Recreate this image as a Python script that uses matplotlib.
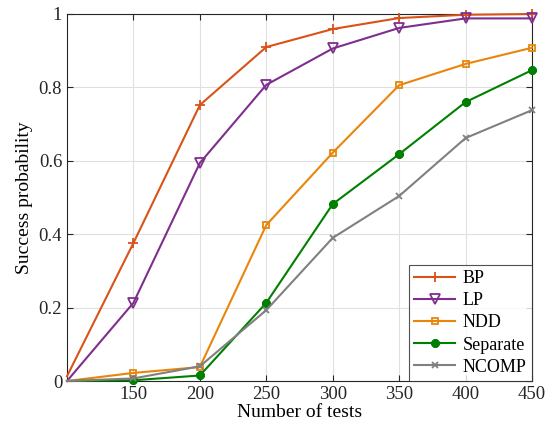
import matplotlib
matplotlib.use("Agg")
import matplotlib.pyplot as plt

tests = [100, 150, 200, 250, 300, 350, 400, 450]
bp = [0.013, 0.376, 0.752, 0.910, 0.959, 0.989, 0.998, 1.0]
lp = [0.0, 0.213, 0.594, 0.807, 0.906, 0.962, 0.988, 0.988]
ndd = [0.0, 0.022, 0.038, 0.425, 0.622, 0.806, 0.864, 0.908]
separate = [0.0, 0.002, 0.015, 0.213, 0.482, 0.618, 0.760, 0.847]
ncomp = [0.0, 0.007, 0.040, 0.193, 0.390, 0.504, 0.662, 0.738]

plt.rcParams['font.family'] = ['Liberation Serif', 'DejaVu Serif']
plt.rcParams['mathtext.fontset'] = 'stix'

fig = plt.figure(figsize=(5.47, 4.33), dpi=100)
ax = fig.add_axes([67/547, 1-381/433, (532-67)/547, (381-14)/433])

series = [
    ("BP", bp, "#D95319", "+", dict(markersize=7, markeredgewidth=1.3)),
    ("LP", lp, "#7E2F8E", "v", dict(markersize=6.5, markerfacecolor='none', markeredgewidth=1.3)),
    ("NDD", ndd, "#E8860C", "s", dict(markersize=5, markerfacecolor='none', markeredgewidth=1.3)),
    ("Separate", separate, "#008000", (8, 2, 0), dict(markersize=6, markeredgewidth=2.2)),
    ("NCOMP", ncomp, "#808080", "x", dict(markersize=5, markeredgewidth=1.3)),
]
for name, vals, col, mk, kw in series:
    ax.plot(tests, vals, color=col, marker=mk, lw=1.5, label=name,
            markevery=list(range(1, len(tests))), clip_on=False, zorder=3, **kw)

ax.set_xlim(100, 450)
ax.set_ylim(0, 1)
ax.set_xticks([150, 200, 250, 300, 350, 400, 450])
ax.set_yticks([0, 0.2, 0.4, 0.6, 0.8, 1])
ax.set_yticklabels(["0", "0.2", "0.4", "0.6", "0.8", "1"])
ax.grid(True, color="#e0e0e0", lw=0.8)
ax.tick_params(direction="in", labelsize=13.5, colors="#262626", length=4,
               top=True, right=True)
for s in ax.spines.values():
    s.set_color("#262626")
    s.set_linewidth(0.8)
ax.set_xlabel("Number of tests", fontsize=14, labelpad=1)
ax.set_ylabel("Success probability", fontsize=14, labelpad=4)

leg = ax.legend(loc="lower right", fontsize=13, frameon=True, fancybox=False,
                edgecolor="#262626", handlelength=2.3, borderpad=0.3,
                labelspacing=0.28, handletextpad=0.4, borderaxespad=0.0)
leg.get_frame().set_linewidth(0.8)

fig.savefig("out.png", dpi=100)
